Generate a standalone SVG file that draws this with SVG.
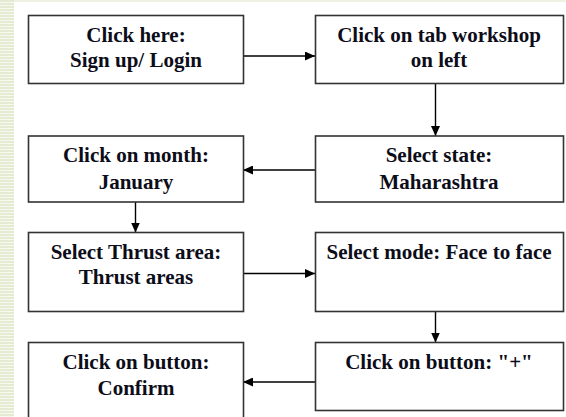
<svg xmlns="http://www.w3.org/2000/svg" width="566" height="417" viewBox="0 0 566 417">
<style>
.box{fill:#fff;stroke:#333;stroke-width:1.6}
.t{font-family:"Liberation Serif","Times New Roman",serif;font-weight:bold;font-size:21px;fill:#0d0d1a;text-anchor:middle}
.c{stroke:#000;stroke-width:1.4;fill:none}
</style>
<defs>
<pattern id="stripes" x="0" y="0" width="14" height="3" patternUnits="userSpaceOnUse">
<rect x="0" y="0" width="14" height="3" fill="#f7f9f0"/>
<rect x="0" y="0" width="14" height="2" fill="#e4ebd3"/>
</pattern>
<marker id="ah" viewBox="0 0 10 9" refX="10" refY="4.5" markerWidth="10" markerHeight="9" markerUnits="userSpaceOnUse" orient="auto">
<path d="M0,0 L10,4.5 L0,9 Z" fill="#000"/>
</marker>
</defs>
<rect x="0" y="0" width="566" height="417" fill="#fff"/>
<rect x="0" y="0" width="566" height="2" fill="#eef2e2"/>
<rect x="0" y="0" width="14" height="417" fill="url(#stripes)"/>

<g id="connectors">
<line class="c" x1="243" y1="56" x2="315" y2="56" marker-end="url(#ah)"/>
<line class="c" x1="435.5" y1="83" x2="435.5" y2="136" marker-end="url(#ah)"/>
<line class="c" x1="315" y1="170" x2="243" y2="170" marker-end="url(#ah)"/>
<line class="c" x1="135.5" y1="202" x2="135.5" y2="232.5" marker-end="url(#ah)"/>
<line class="c" x1="243" y1="273.5" x2="315" y2="273.5" marker-end="url(#ah)"/>
<line class="c" x1="435.5" y1="312" x2="435.5" y2="342.5" marker-end="url(#ah)"/>
<line class="c" x1="315" y1="382" x2="243" y2="382" marker-end="url(#ah)"/>
</g>

<g id="n1">
<rect class="box" x="28.5" y="15.5" width="215" height="68"/>
<text class="t" x="136" y="41.5">Click here:</text>
<text class="t" x="136" y="66.5">Sign up/ Login</text>
</g>
<g id="n2">
<rect class="box" x="315.5" y="15.5" width="248" height="68"/>
<text class="t" x="439" y="41.5">Click on tab workshop</text>
<text class="t" x="439" y="66.5">on left</text>
</g>
<g id="n3">
<rect class="box" x="315.5" y="136" width="248" height="66"/>
<text class="t" x="439" y="162">Select state:</text>
<text class="t" x="439" y="188.5">Maharashtra</text>
</g>
<g id="n4">
<rect class="box" x="28.5" y="136" width="215" height="66"/>
<text class="t" x="136" y="162">Click on month:</text>
<text class="t" x="136" y="188.5">January</text>
</g>
<g id="n5">
<rect class="box" x="28.5" y="232.5" width="215" height="79"/>
<text class="t" x="136" y="258.5">Select Thrust area:</text>
<text class="t" x="136" y="284">Thrust areas</text>
</g>
<g id="n6">
<rect class="box" x="315.5" y="232.5" width="248" height="79"/>
<text class="t" x="439" y="258.5">Select mode: Face to face</text>
</g>
<g id="n7">
<rect class="box" x="315.5" y="342.5" width="248" height="68"/>
<text class="t" x="439" y="368.5">Click on button: "+"</text>
</g>
<g id="n8">
<rect class="box" x="28.5" y="342.5" width="215" height="90"/>
<text class="t" x="136" y="368.5">Click on button:</text>
<text class="t" x="136" y="394.5">Confirm</text>
</g>
</svg>
